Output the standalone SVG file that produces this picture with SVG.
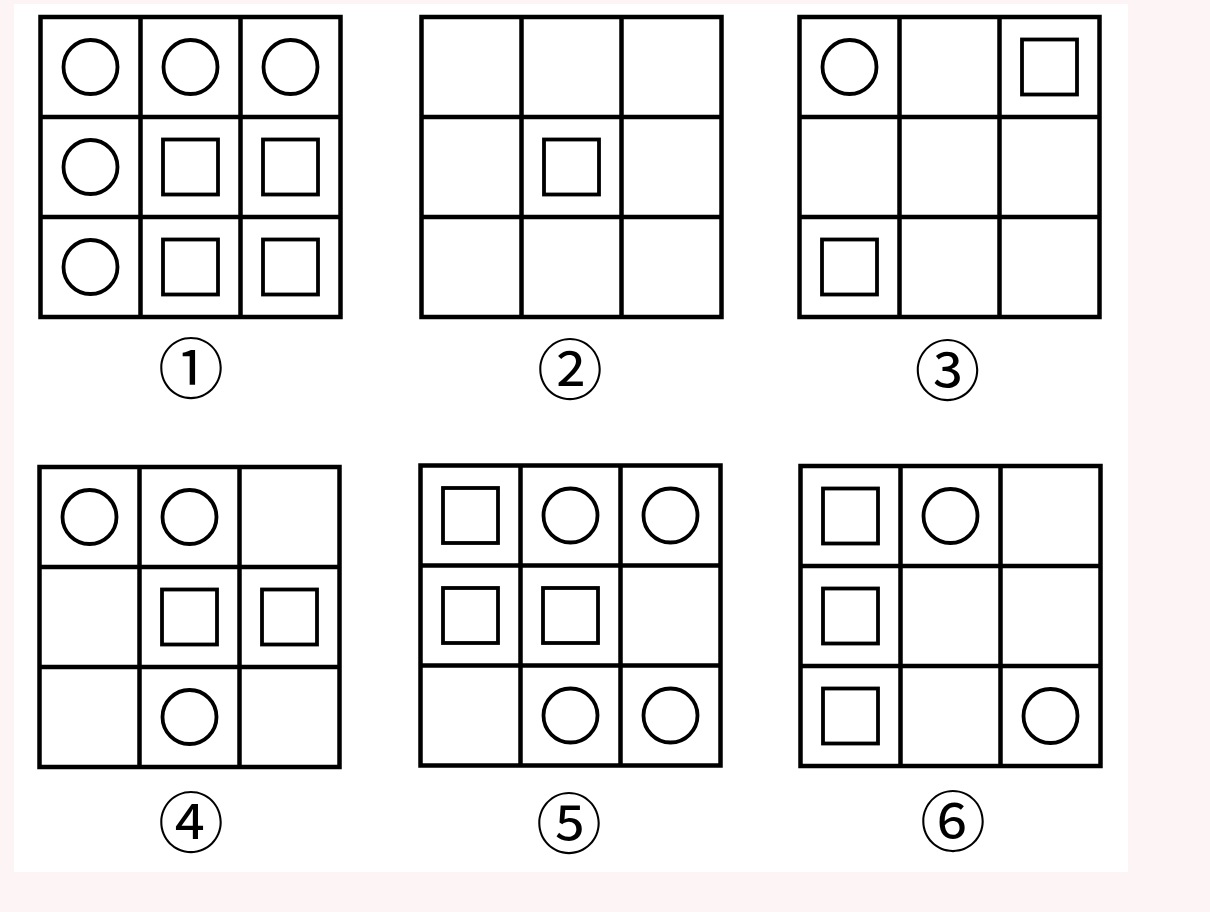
<svg xmlns="http://www.w3.org/2000/svg" xmlns:xlink="http://www.w3.org/1999/xlink" width="1210" height="912" viewBox="0 0 1210 912">
<style>
.grid{fill:none;stroke:#000;stroke-width:4.5}
.shape{fill:none;stroke:#000;stroke-width:3.8}
.lbl{font-family:"Noto Sans CJK SC","DejaVu Sans",sans-serif;font-size:66px;text-anchor:middle;fill:#000}
</style>
<defs>
<g id="board">
<rect class="grid" x="0" y="0" width="300" height="300"/>
<path class="grid" d="M100 0V300M200 0V300M0 100H300M0 200H300"/>
</g>
<circle id="c" class="shape" cx="0" cy="0" r="27"/>
<rect id="s" class="shape" x="-27.5" y="-27.5" width="55" height="55"/>
</defs>
<rect x="0" y="0" width="1210" height="912" fill="#fdf5f5"/>
<rect x="14" y="4" width="1114" height="868" fill="#fff"/>
<g id="fig1" transform="translate(40.5,17)">
<use xlink:href="#board"/>
<use xlink:href="#c" x="50" y="50"/><use xlink:href="#c" x="150" y="50"/><use xlink:href="#c" x="250" y="50"/>
<use xlink:href="#c" x="50" y="150"/><use xlink:href="#s" x="150" y="150"/><use xlink:href="#s" x="250" y="150"/>
<use xlink:href="#c" x="50" y="250"/><use xlink:href="#s" x="150" y="250"/><use xlink:href="#s" x="250" y="250"/>
<text class="lbl" x="150.5" y="376">①</text>
</g>
<g id="fig2" transform="translate(421.5,17)">
<use xlink:href="#board"/>
<use xlink:href="#s" x="150" y="150"/>
<text class="lbl" x="148.5" y="376.5">②</text>
</g>
<g id="fig3" transform="translate(799.5,17)">
<use xlink:href="#board"/>
<use xlink:href="#c" x="50" y="50"/><use xlink:href="#s" x="250" y="50"/>
<use xlink:href="#s" x="50" y="250"/>
<text class="lbl" x="148" y="378">③</text>
</g>
<g id="fig4" transform="translate(39.5,467)">
<use xlink:href="#board"/>
<use xlink:href="#c" x="50" y="50"/><use xlink:href="#c" x="150" y="50"/>
<use xlink:href="#s" x="150" y="150"/><use xlink:href="#s" x="250" y="150"/>
<use xlink:href="#c" x="150" y="250"/>
<text class="lbl" x="151.5" y="380">④</text>
</g>
<g id="fig5" transform="translate(420.5,465.5)">
<use xlink:href="#board"/>
<use xlink:href="#s" x="50" y="50"/><use xlink:href="#c" x="150" y="50"/><use xlink:href="#c" x="250" y="50"/>
<use xlink:href="#s" x="50" y="150"/><use xlink:href="#s" x="150" y="150"/>
<use xlink:href="#c" x="150" y="250"/><use xlink:href="#c" x="250" y="250"/>
<text class="lbl" x="148.5" y="382">⑤</text>
</g>
<g id="fig6" transform="translate(800.5,466)">
<use xlink:href="#board"/>
<use xlink:href="#s" x="50" y="50"/><use xlink:href="#c" x="150" y="50"/>
<use xlink:href="#s" x="50" y="150"/>
<use xlink:href="#s" x="50" y="250"/><use xlink:href="#c" x="250" y="250"/>
<text class="lbl" x="152.5" y="380">⑥</text>
</g>
<g id="connectors"/>
</svg>
